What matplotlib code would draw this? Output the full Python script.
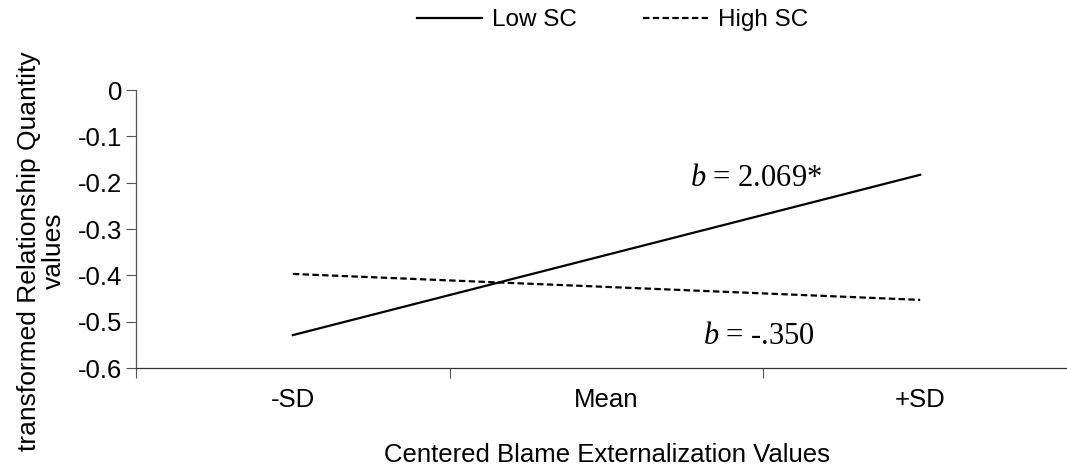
import numpy as np
import matplotlib.pyplot as plt
from matplotlib.lines import Line2D

# values
categories = ['-SD', 'Mean', '+SD']
low_sc = [-0.529, -0.356, -0.183]
high_sc = [-0.397, -0.425, -0.453]
y_ticks = [0, -0.1, -0.2, -0.3, -0.4, -0.5, -0.6]
y_tick_labels = ['0', '-0.1', '-0.2', '-0.3', '-0.4', '-0.5', '-0.6']

plt.rcParams['font.family'] = ['Liberation Sans', 'DejaVu Sans']
plt.rcParams['mathtext.fontset'] = 'custom'
plt.rcParams['mathtext.it'] = 'Liberation Serif:italic'
plt.rcParams['mathtext.rm'] = 'Liberation Serif'

DASH = (2.9, 1.5)

fig = plt.figure(figsize=(10.67, 4.69), dpi=100)
ax = fig.add_axes([136 / 1067, 1 - 368 / 469, (1077 - 136) / 1067, (368 - 90) / 469])

x = np.arange(len(categories))
ax.plot(x, low_sc, color='black', linewidth=1.6)
ax.plot(x, high_sc, color='black', linewidth=1.6, dashes=DASH)

ax.set_xlim(-0.5, 2.5)
ax.set_ylim(-0.6, 0)

ax.set_yticks(y_ticks)
ax.set_yticklabels(y_tick_labels, fontsize=18.5)
ax.set_xticks(x)
ax.set_xticklabels(categories, fontsize=18.5)
ax.tick_params(axis='x', which='major', length=0, pad=14.5)
ax.set_xticks([-0.5, 0.5, 1.5, 2.5], minor=True)
ax.tick_params(axis='x', which='minor', length=7, width=0.8, color='#555555', direction='out')
ax.tick_params(axis='y', length=7, width=0.8, color='#555555', direction='out', pad=3)

for s in ['top', 'right']:
    ax.spines[s].set_visible(False)
ax.spines['left'].set_color('#555555')
ax.spines['bottom'].set_color('#333333')
ax.spines['left'].set_linewidth(0.9)
ax.spines['bottom'].set_linewidth(0.9)

ax.set_xlabel('Centered Blame Externalization Values', fontsize=18.5, labelpad=22)
ax.set_ylabel('transformed Relationship Quantity\nvalues', fontsize=19,
              linespacing=1.05)
ax.yaxis.set_label_coords(-0.074, 0.42)

ax.text(1.266, -0.19, r'$b$ = 2.069*', fontsize=22, family='Liberation Serif',
        ha='left', va='center')
ax.text(1.307, -0.532, r'$b$ = -.350', fontsize=22, family='Liberation Serif',
        ha='left', va='center')

handles = [Line2D([], [], color='black', linewidth=1.6),
           Line2D([], [], color='black', linewidth=1.6, dashes=DASH)]
fig.legend(handles, ['Low SC', 'High SC'], loc='center', bbox_to_anchor=(0.574, 0.957),
           ncol=2, frameon=False, fontsize=17.5, handlelength=2.7, handletextpad=0.4,
           columnspacing=2.7)

fig.savefig('out.png', dpi=100)
